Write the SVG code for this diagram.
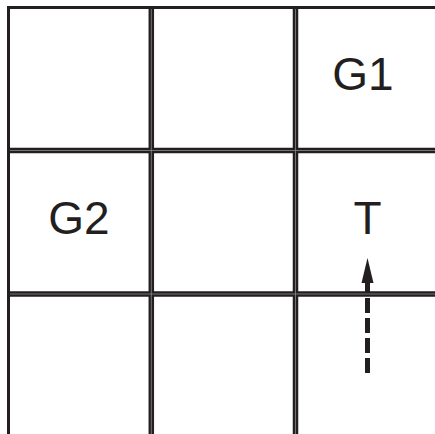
<svg xmlns="http://www.w3.org/2000/svg" width="435" height="434" viewBox="0 0 435 434">
<defs>
<style>
.edge{stroke:#231f20;stroke-width:3;fill:none}
.grid{stroke:#231f20;stroke-width:5.5;fill:none}
.mid{stroke:#8a8a8a;stroke-width:0.8;fill:none}
.lbl{font-family:"Liberation Sans",Arial,sans-serif;font-size:46px;fill:#231f20;text-anchor:middle}
</style>
</defs>
<rect width="435" height="434" fill="#ffffff"/>
<g id="grid">
<line class="edge" x1="8.5" y1="7.5" x2="435" y2="7.5"/>
<line class="edge" x1="8.5" y1="6" x2="8.5" y2="434"/>
<line class="grid" x1="151.3" y1="7" x2="151.3" y2="434"/>
<line class="grid" x1="295.5" y1="7" x2="295.5" y2="434"/>
<line class="grid" x1="7" y1="150.5" x2="435" y2="150.5"/>
<line class="grid" x1="7" y1="294" x2="435" y2="294"/>
<line class="mid" x1="151.3" y1="9" x2="151.3" y2="434"/>
<line class="mid" x1="295.5" y1="9" x2="295.5" y2="434"/>
<line class="mid" x1="10" y1="150.5" x2="435" y2="150.5"/>
<line class="mid" x1="10" y1="294" x2="435" y2="294"/>
</g>
<g id="G1"><text class="lbl" x="363" y="90">G1</text></g>
<g id="G2"><text class="lbl" x="79" y="234">G2</text></g>
<g id="T"><text class="lbl" x="367.5" y="234">T</text></g>
<g id="connectors">
<line x1="367.5" y1="373" x2="367.5" y2="281" stroke="#231f20" stroke-width="5" stroke-dasharray="15 5"/>
<polygon points="367.5,258 373.5,283 361.5,283" fill="#231f20"/>
</g>
</svg>
